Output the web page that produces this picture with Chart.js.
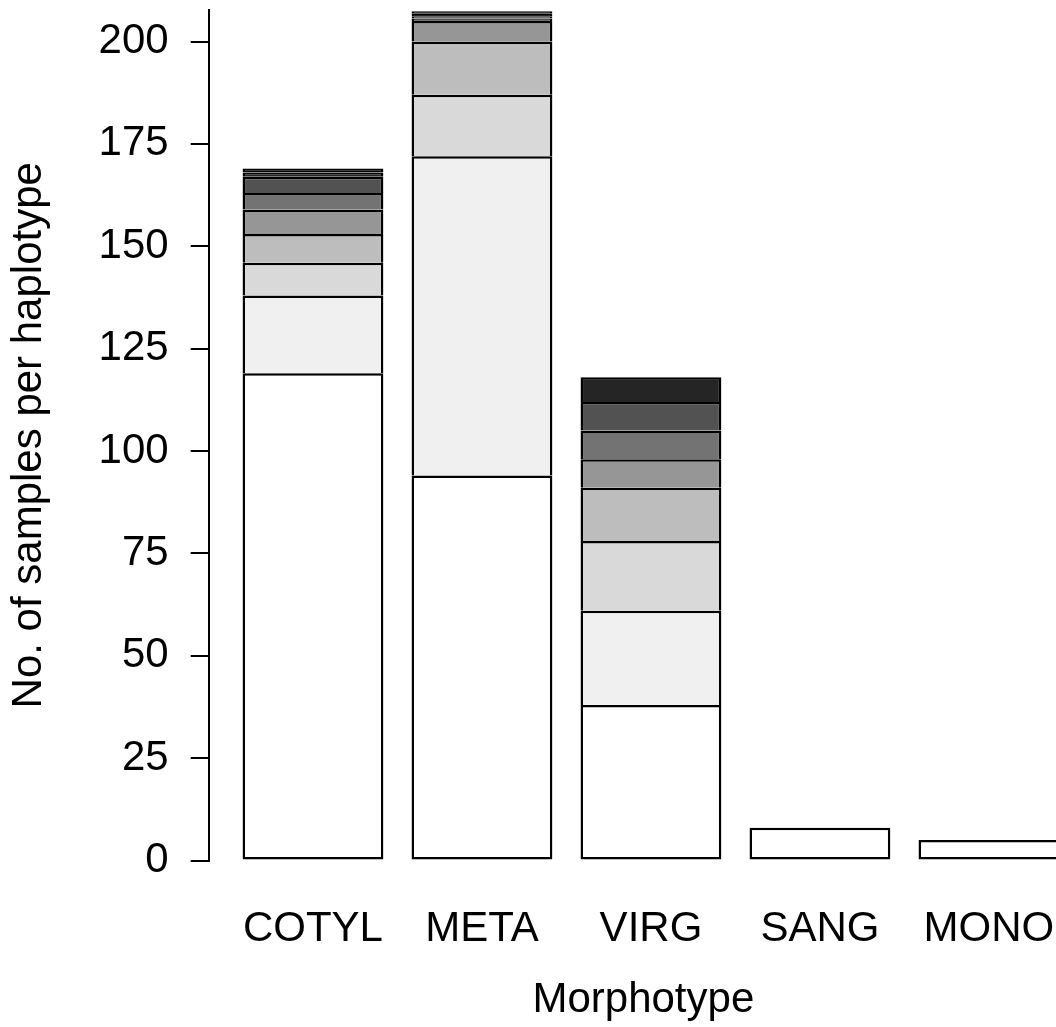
<!DOCTYPE html>
<html>
<head>
<meta charset="utf-8">
<script src="https://cdn.jsdelivr.net/npm/chart.js@4/dist/chart.umd.min.js"></script>
<style>
	body { margin: 0; overflow: hidden; background: #fff; }
	#wrap { width: 1090px; height: 1027px; }
</style>
</head>
<body>
<div id="wrap"><canvas id="bars" width="1090" height="1027"></canvas></div>
<script>
// morphotypes along the x axis
const categories = ["COTYL", "META", "VIRG", "SANG", "MONO"];

// samples per haplotype, stacked from the most common haplotype upwards
const hap1 = [119, 94, 38, 8, 5];
const hap2 = [19, 78, 23, 0, 0];
const hap3 = [8, 15, 17, 0, 0];
const hap4 = [7, 13, 13, 0, 0];
const hap5 = [6, 5, 7, 0, 0];
const hap6 = [4, 0.6, 7, 0, 0];
const hap7 = [4, 0.6, 7, 0, 0];
const hap8 = [1, 0.6, 6, 0, 0];
const hap9 = [1, 0.6, 0, 0, 0];

const yTicks = [0, 25, 50, 75, 100, 125, 150, 175, 200];

const greys = ["#FFFFFF", "#F0F0F0", "#D9D9D9", "#BDBDBD", "#969696", "#737373", "#525252", "#252525", "#000000"];
const series = [hap1, hap2, hap3, hap4, hap5, hap6, hap7, hap8, hap9];

const font = "'Liberation Sans', Arial, sans-serif";
const positions = categories.map((c, i) => i);

let datasets = series.map((vals, s) => ({
	label: "Haplotype " + (s + 1),
	data: vals,
	backgroundColor: greys[s],
	borderColor: "#000",
	borderWidth: 2.5,
	borderSkipped: s === 0 ? false : "start",
	categoryPercentage: 1,
	barPercentage: 1 / 1.2
}));

let chart = new Chart("bars", {
	type: "bar",
	data: {
		labels: positions,
		datasets: datasets
	},
	options: {
		responsive: false,
		devicePixelRatio: 1,
		animation: false,
		layout: { padding: { top: 10, right: 12, left: 0, bottom: 0 } },
		plugins: {
			legend: { display: false },
			tooltip: { enabled: false }
		},
		scales: {
			x: {
				type: "linear",
				stacked: true,
				offset: false,
				min: -0.617,
				max: 4.527,
				grid: { display: false, drawTicks: false, tickLength: 0 },
				border: { display: false },
				ticks: {
					stepSize: 1,
					includeBounds: false,
					autoSkip: false,
					maxRotation: 0,
					padding: 44,
					color: "#000",
					font: { family: font, size: 42 },
					callback: (v) => categories[v]
				},
				title: {
					display: true,
					text: "Morphotype",
					color: "#000",
					font: { family: font, size: 42 },
					padding: { top: 0, bottom: 1 }
				},
				afterFit: (scale) => {
					scale.height = 166.5;
					scale.paddingLeft = 0;
					scale.paddingRight = 0;
				}
			},
			y: {
				stacked: true,
				min: 0,
				max: 207.7,
				afterBuildTicks: (scale) => { scale.ticks = yTicks.map(v => ({ value: v })); },
				grid: {
					display: true,
					drawOnChartArea: false,
					drawTicks: true,
					tickLength: 18,
					color: "#000",
					lineWidth: 2
				},
				border: { display: true, color: "#000", width: 2 },
				ticks: {
					padding: 22,
					color: "#000",
					font: { family: font, size: 42 }
				},
				title: {
					display: true,
					text: "No. of samples per haplotype",
					color: "#000",
					font: { family: font, size: 42 },
					padding: { top: 4, bottom: 0 }
				},
				afterFit: (scale) => {
					scale.width = 208.7;
					scale.paddingTop = 0;
					scale.paddingBottom = 0;
				}
			}
		}
	}
});
</script>
</body>
</html>
